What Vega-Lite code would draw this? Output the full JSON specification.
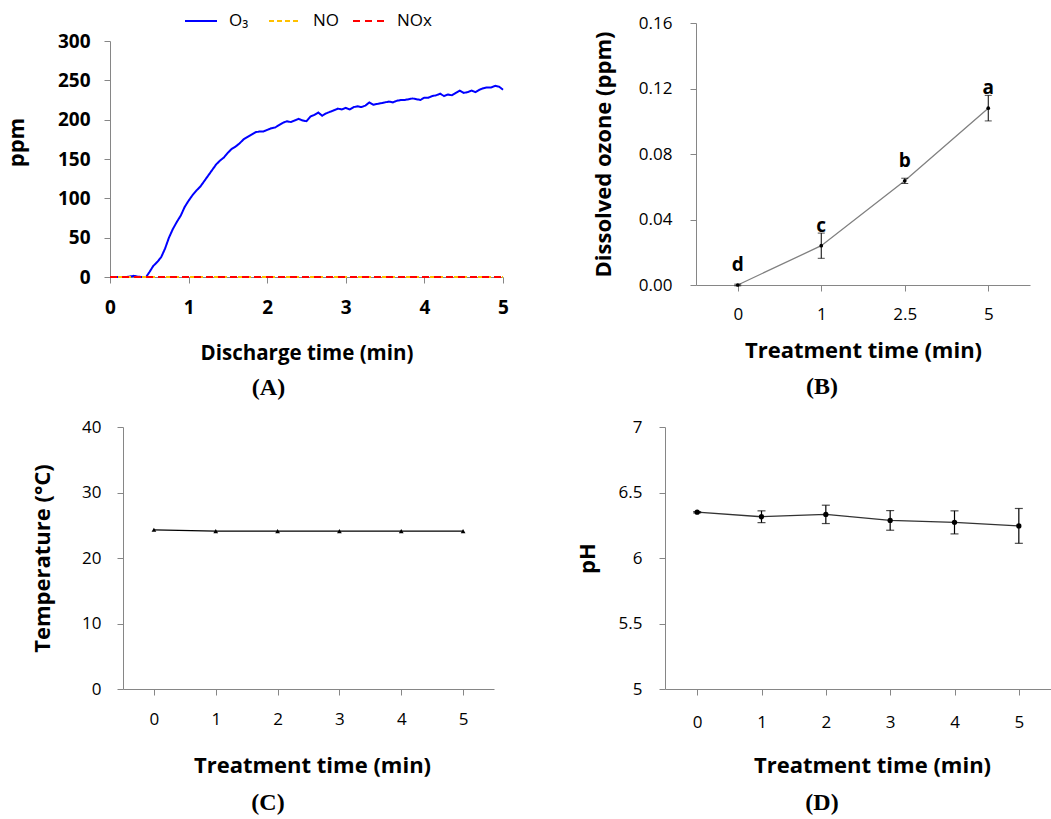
{
  "$schema": "https://vega.github.io/schema/vega-lite/v6.json",
  "background": "white",
  "padding": {"left": 5, "top": 12, "right": 0, "bottom": 0},
  "config": {
    "font": "Open Sans",
    "view": {"stroke": null},
    "axis": {"grid": false, "domainColor": "#868686", "tickColor": "#868686", "labelColor": "#000000", "titleColor": "#000000", "labelFont": "Open Sans", "titleFont": "Open Sans", "tickSize": 6, "labelFontSize": 17, "titleFontSize": 22, "titleFontWeight": "bold", "labelFontWeight": "normal", "domainWidth": 1, "tickWidth": 1},
    "title": {"font": "Liberation Serif", "fontSize": 24, "fontWeight": "bold", "color": "#000000", "orient": "bottom", "frame": "group", "anchor": "middle"}
  },
  "datasets": {
    "gas": [
      {"series": "O₃", "t": 0, "ppm": 0}, {"series": "O₃", "t": 0.1, "ppm": 0}, {"series": "O₃", "t": 0.2, "ppm": 0}, {"series": "O₃", "t": 0.25, "ppm": 0.5}, {"series": "O₃", "t": 0.3, "ppm": 1.5}, {"series": "O₃", "t": 0.35, "ppm": 0.5}, {"series": "O₃", "t": 0.4, "ppm": 0}, {"series": "O₃", "t": 0.46, "ppm": 0},
      {"series": "O₃", "t": 0.5, "ppm": 6}, {"series": "O₃", "t": 0.55, "ppm": 14}, {"series": "O₃", "t": 0.6, "ppm": 19}, {"series": "O₃", "t": 0.65, "ppm": 25}, {"series": "O₃", "t": 0.7, "ppm": 36}, {"series": "O₃", "t": 0.75, "ppm": 50}, {"series": "O₃", "t": 0.8, "ppm": 61}, {"series": "O₃", "t": 0.85, "ppm": 70}, {"series": "O₃", "t": 0.9, "ppm": 78}, {"series": "O₃", "t": 0.95, "ppm": 89},
      {"series": "O₃", "t": 1.0, "ppm": 97}, {"series": "O₃", "t": 1.05, "ppm": 104}, {"series": "O₃", "t": 1.1, "ppm": 110}, {"series": "O₃", "t": 1.15, "ppm": 115}, {"series": "O₃", "t": 1.2, "ppm": 122}, {"series": "O₃", "t": 1.25, "ppm": 129}, {"series": "O₃", "t": 1.3, "ppm": 136}, {"series": "O₃", "t": 1.35, "ppm": 143}, {"series": "O₃", "t": 1.4, "ppm": 148}, {"series": "O₃", "t": 1.45, "ppm": 152},
      {"series": "O₃", "t": 1.5, "ppm": 158}, {"series": "O₃", "t": 1.55, "ppm": 163}, {"series": "O₃", "t": 1.6, "ppm": 166}, {"series": "O₃", "t": 1.65, "ppm": 170}, {"series": "O₃", "t": 1.7, "ppm": 175}, {"series": "O₃", "t": 1.75, "ppm": 178}, {"series": "O₃", "t": 1.8, "ppm": 181}, {"series": "O₃", "t": 1.85, "ppm": 184}, {"series": "O₃", "t": 1.9, "ppm": 185}, {"series": "O₃", "t": 1.95, "ppm": 185},
      {"series": "O₃", "t": 2.0, "ppm": 187}, {"series": "O₃", "t": 2.05, "ppm": 189}, {"series": "O₃", "t": 2.1, "ppm": 190}, {"series": "O₃", "t": 2.15, "ppm": 193}, {"series": "O₃", "t": 2.2, "ppm": 196}, {"series": "O₃", "t": 2.25, "ppm": 198}, {"series": "O₃", "t": 2.3, "ppm": 197}, {"series": "O₃", "t": 2.35, "ppm": 199}, {"series": "O₃", "t": 2.4, "ppm": 201}, {"series": "O₃", "t": 2.45, "ppm": 199},
      {"series": "O₃", "t": 2.5, "ppm": 198}, {"series": "O₃", "t": 2.55, "ppm": 204}, {"series": "O₃", "t": 2.6, "ppm": 206}, {"series": "O₃", "t": 2.65, "ppm": 209}, {"series": "O₃", "t": 2.7, "ppm": 205}, {"series": "O₃", "t": 2.75, "ppm": 208}, {"series": "O₃", "t": 2.8, "ppm": 210}, {"series": "O₃", "t": 2.85, "ppm": 212}, {"series": "O₃", "t": 2.9, "ppm": 214}, {"series": "O₃", "t": 2.95, "ppm": 213},
      {"series": "O₃", "t": 3.0, "ppm": 215}, {"series": "O₃", "t": 3.05, "ppm": 213}, {"series": "O₃", "t": 3.1, "ppm": 216}, {"series": "O₃", "t": 3.15, "ppm": 217}, {"series": "O₃", "t": 3.2, "ppm": 216}, {"series": "O₃", "t": 3.25, "ppm": 218}, {"series": "O₃", "t": 3.3, "ppm": 222}, {"series": "O₃", "t": 3.35, "ppm": 219}, {"series": "O₃", "t": 3.4, "ppm": 220}, {"series": "O₃", "t": 3.45, "ppm": 221},
      {"series": "O₃", "t": 3.5, "ppm": 222}, {"series": "O₃", "t": 3.55, "ppm": 223}, {"series": "O₃", "t": 3.6, "ppm": 222}, {"series": "O₃", "t": 3.65, "ppm": 224}, {"series": "O₃", "t": 3.7, "ppm": 225}, {"series": "O₃", "t": 3.75, "ppm": 225}, {"series": "O₃", "t": 3.8, "ppm": 226}, {"series": "O₃", "t": 3.85, "ppm": 227}, {"series": "O₃", "t": 3.9, "ppm": 226}, {"series": "O₃", "t": 3.95, "ppm": 225},
      {"series": "O₃", "t": 4.0, "ppm": 228}, {"series": "O₃", "t": 4.05, "ppm": 228}, {"series": "O₃", "t": 4.1, "ppm": 230}, {"series": "O₃", "t": 4.15, "ppm": 231}, {"series": "O₃", "t": 4.2, "ppm": 233}, {"series": "O₃", "t": 4.25, "ppm": 230}, {"series": "O₃", "t": 4.3, "ppm": 232}, {"series": "O₃", "t": 4.35, "ppm": 231}, {"series": "O₃", "t": 4.4, "ppm": 234}, {"series": "O₃", "t": 4.45, "ppm": 237},
      {"series": "O₃", "t": 4.5, "ppm": 234}, {"series": "O₃", "t": 4.55, "ppm": 235}, {"series": "O₃", "t": 4.6, "ppm": 237}, {"series": "O₃", "t": 4.65, "ppm": 235}, {"series": "O₃", "t": 4.7, "ppm": 238}, {"series": "O₃", "t": 4.75, "ppm": 240}, {"series": "O₃", "t": 4.8, "ppm": 241}, {"series": "O₃", "t": 4.85, "ppm": 241}, {"series": "O₃", "t": 4.9, "ppm": 243}, {"series": "O₃", "t": 4.95, "ppm": 242}, {"series": "O₃", "t": 5.0, "ppm": 238},
      {"series": "NO", "t": 0, "ppm": 0}, {"series": "NO", "t": 5, "ppm": 0},
      {"series": "NOx", "t": 0, "ppm": 0}, {"series": "NOx", "t": 5, "ppm": 0}
    ],
    "ozone": [
      {"t": "0", "mean": 0.0, "err": 0.0005, "letter": "d"},
      {"t": "1", "mean": 0.024, "err": 0.0077, "letter": "c"},
      {"t": "2.5", "mean": 0.0636, "err": 0.0016, "letter": "b"},
      {"t": "5", "mean": 0.108, "err": 0.0078, "letter": "a"}
    ],
    "temp": [
      {"t": 0, "temp": 24.3}, {"t": 1, "temp": 24.1}, {"t": 2, "temp": 24.1}, {"t": 3, "temp": 24.1}, {"t": 4, "temp": 24.1}, {"t": 5, "temp": 24.1}
    ],
    "ph": [
      {"t": 0, "mean": 6.35, "err": 0.005},
      {"t": 1, "mean": 6.315, "err": 0.045},
      {"t": 2, "mean": 6.333, "err": 0.07},
      {"t": 3, "mean": 6.287, "err": 0.075},
      {"t": 4, "mean": 6.272, "err": 0.088},
      {"t": 5, "mean": 6.245, "err": 0.133}
    ]
  },
  "columns": 2,
  "align": "none",
  "spacing": {"row": 18, "column": 67},
  "concat": [
    {
      "width": 393, "height": 254,
      "data": {"name": "gas"},
      "title": {"text": "(A)", "offset": 12, "dx": -38},
      "mark": {"type": "line", "strokeWidth": 2},
      "encoding": {
        "x": {"field": "t", "type": "quantitative", "scale": {"domain": [0, 5], "nice": false},
              "axis": {"values": [0, 1, 2, 3, 4, 5], "labelFontSize": 19, "labelFontWeight": "bold", "labelPadding": 15, "labelFlush": false, "title": "Discharge time (min)", "titleFontSize": 20.5, "titlePadding": 26}},
        "y": {"field": "ppm", "type": "quantitative", "scale": {"domain": [0, 300], "nice": false, "range": [254, 18]},
              "axis": {"values": [0, 50, 100, 150, 200, 250, 300], "labelFontSize": 19, "labelFontWeight": "bold", "labelPadding": 14, "title": "ppm", "titleX": -82, "titleY": 119}},
        "color": {"field": "series", "type": "nominal",
                  "scale": {"domain": ["O₃", "NO", "NOx"], "range": ["#0000FF", "#FFC000", "#FF0000"]},
                  "legend": {"orient": "none", "legendX": 82, "legendY": -11, "direction": "horizontal", "columns": 3, "gridAlign": "all", "title": null, "symbolType": "M-2,0H2", "symbolSize": 256, "symbolStrokeWidth": 2, "labelFontSize": 17, "labelFont": "Open Sans", "labelColor": "#000000", "labelOffset": 19, "columnPadding": 1, "padding": 0}},
        "strokeDash": {"field": "series", "type": "nominal",
                       "scale": {"domain": ["O₃", "NO", "NOx"], "range": [[1, 0], [5, 3], [7, 5]]}}
      }
    },
    {
      "width": 334, "height": 262,
      "data": {"name": "ozone"},
      "title": {"text": "(B)", "offset": 14, "dx": -41},
      "encoding": {
        "x": {"field": "t", "type": "ordinal", "scale": {"type": "point", "padding": 0.5},
              "axis": {"labelAngle": 0, "labelPadding": 15, "title": "Treatment time (min)", "titlePadding": 18}},
        "y": {"field": "mean", "type": "quantitative", "scale": {"domain": [0, 0.16], "nice": false},
              "axis": {"values": [0, 0.04, 0.08, 0.12, 0.16], "format": ".2f", "labelPadding": 18, "title": [" ", "Dissolved ozone (ppm)"], "titleLineHeight": 15.5, "titlePadding": 23}}
      },
      "layer": [
        {"mark": {"type": "line", "color": "#808080", "strokeWidth": 1.3}},
        {"mark": {"type": "errorbar", "color": "#000000", "thickness": 1, "ticks": {"size": 7, "color": "#000000"}},
         "encoding": {"yError": {"field": "err"}}},
        {"mark": {"type": "point", "filled": true, "color": "#000000", "size": 14, "opacity": 1}},
        {"mark": {"type": "text", "fontWeight": "bold", "fontSize": 19, "font": "Open Sans", "dy": -20, "color": "#000000"},
         "encoding": {"text": {"field": "letter"}}}
      ]
    },
    {
      "width": 384, "height": 262,
      "data": {"name": "temp"},
      "title": {"text": "(C)", "offset": 15, "dx": -34},
      "encoding": {
        "x": {"field": "t", "type": "ordinal", "scale": {"type": "point", "padding": 0.5, "range": [13, 384]},
              "axis": {"labelAngle": 0, "labelPadding": 16, "title": "Treatment time (min)", "titlePadding": 28, "titleX": 202}},
        "y": {"field": "temp", "type": "quantitative", "scale": {"domain": [0, 40], "nice": false},
              "axis": {"values": [0, 10, 20, 30, 40], "offset": -13, "labelPadding": 16, "title": "Temperature (°C)", "titlePadding": 27}}
      },
      "layer": [
        {"mark": {"type": "line", "color": "#000000", "strokeWidth": 1.3}},
        {"mark": {"type": "point", "shape": "triangle-up", "filled": true, "color": "#000000", "size": 22, "opacity": 1}}
      ]
    },
    {
      "width": 386, "height": 262,
      "data": {"name": "ph"},
      "title": {"text": "(D)", "offset": 15, "dx": -36},
      "encoding": {
        "x": {"field": "t", "type": "ordinal", "scale": {"type": "point", "padding": 0.5},
              "axis": {"labelAngle": 0, "labelPadding": 19, "title": "Treatment time (min)", "titlePadding": 25, "titleX": 207}},
        "y": {"field": "mean", "type": "quantitative", "scale": {"domain": [5, 7], "nice": false},
              "axis": {"values": [5, 5.5, 6, 6.5, 7], "format": "~g", "labelPadding": 17, "title": "pH", "titlePadding": 18.5}}
      },
      "layer": [
        {"mark": {"type": "line", "color": "#333333", "strokeWidth": 1.3}},
        {"mark": {"type": "errorbar", "color": "#000000", "thickness": 1.2, "ticks": {"size": 8, "color": "#000000"}},
         "encoding": {"yError": {"field": "err"}}},
        {"mark": {"type": "point", "filled": true, "color": "#000000", "size": 28, "opacity": 1}}
      ]
    }
  ]
}
